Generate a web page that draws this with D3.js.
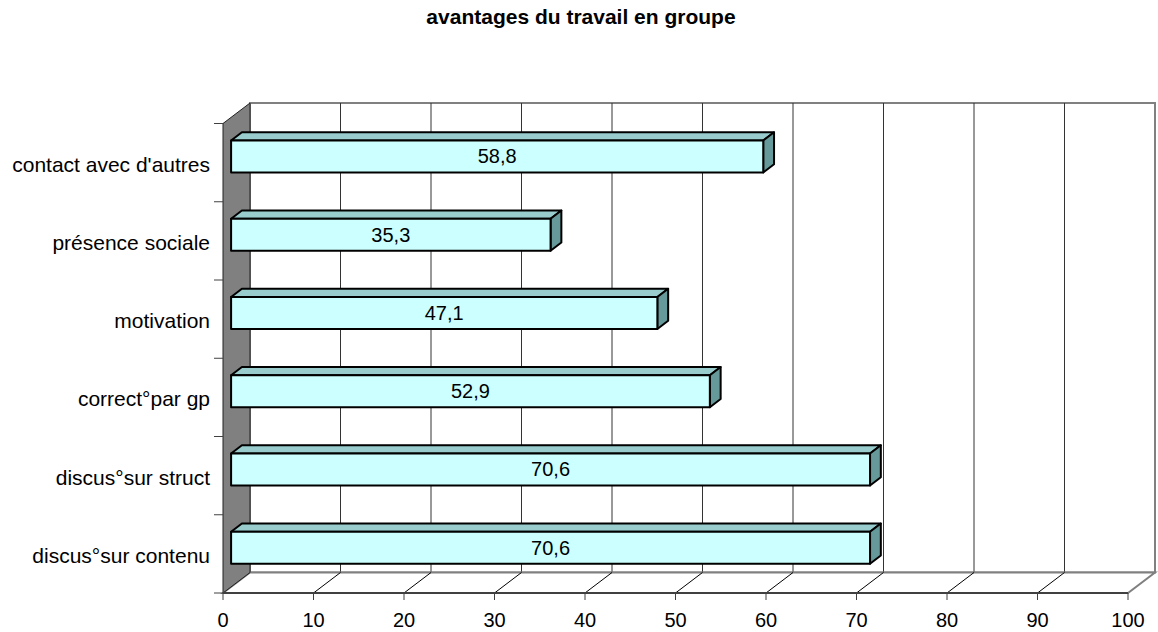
<!DOCTYPE html>
<html>
<head>
<meta charset="utf-8">
<script src="https://cdn.jsdelivr.net/npm/d3@7"></script>
<style>
  html, body { margin: 0; padding: 0; background: #fff; }
  text { font-family: "Liberation Sans", Arial, sans-serif; fill: #000; }
</style>
</head>
<body>
<svg id="chart" width="1158" height="632"></svg>
<script>
const title = "avantages du travail en groupe";
const categories = ["contact avec d'autres", "présence sociale", "motivation", "correct°par gp", "discus°sur struct", "discus°sur contenu"];
const values = [58.8, 35.3, 47.1, 52.9, 70.6, 70.6];
const valueLabels = ["58,8", "35,3", "47,1", "52,9", "70,6", "70,6"];
const xTicks = [0, 10, 20, 30, 40, 50, 60, 70, 80, 90, 100];

(function () {
const svg = d3.select("#chart");
const pLeft = 223, pRight = 1128, pTop = 123.5, pBottom = 593;
const DX = 27, DY = -20.5;           // depth offset of back wall
const zFront = 0.3, zBack = 0.7;     // bar depth range

const x = d3.scaleLinear().domain([0, 100]).range([pLeft, pRight]);
const yBand = d3.scaleBand().domain(categories).range([pTop, pBottom]);
const yBar = d3.scaleBand().domain(categories).range([pTop, pBottom])
  .paddingInner(0.59).paddingOuter(0.295);

const P = (px, py, z) => [px + DX * z, py + DY * z];
const poly = pts => pts.map(p => p.join(",")).join(" ");

// Back wall
svg.append("rect")
  .attr("x", pLeft + DX).attr("y", pTop + DY)
  .attr("width", pRight - pLeft).attr("height", pBottom - pTop)
  .attr("fill", "#fff").attr("stroke", "#808080").attr("stroke-width", 2);

// Gridlines on back wall
svg.selectAll(".grid").data(xTicks.slice(1, -1)).join("line")
  .attr("x1", d => x(d) + DX).attr("x2", d => x(d) + DX)
  .attr("y1", pTop + DY).attr("y2", pBottom + DY)
  .attr("stroke", "#333").attr("stroke-width", 1);

// Floor
const floor = [P(pLeft, pBottom, 0), P(pLeft, pBottom, 1), P(pRight, pBottom, 1), P(pRight, pBottom, 0)];
svg.append("polygon").attr("points", poly(floor))
  .attr("fill", "#fff").attr("stroke", "#808080").attr("stroke-width", 2);

svg.selectAll(".floorline").data(xTicks.slice(1, -1)).join("line")
  .attr("x1", d => x(d)).attr("y1", pBottom)
  .attr("x2", d => x(d) + DX).attr("y2", pBottom + DY)
  .attr("stroke", "#000").attr("stroke-width", 1);

// Side wall
const side = [P(pLeft, pTop, 0), P(pLeft, pTop, 1), P(pLeft, pBottom, 1), P(pLeft, pBottom, 0)];
svg.append("polygon").attr("points", poly(side))
  .attr("fill", "#808080").attr("stroke", "#222").attr("stroke-width", 1);

// Front axis line (bottom)
svg.append("line").attr("x1", pLeft).attr("x2", pRight).attr("y1", pBottom).attr("y2", pBottom)
  .attr("stroke", "#404040").attr("stroke-width", 2);

// X ticks and labels
svg.selectAll(".xtick").data(xTicks).join("line")
  .attr("x1", d => x(d)).attr("x2", d => x(d))
  .attr("y1", pBottom).attr("y2", pBottom + 7)
  .attr("stroke", "#404040").attr("stroke-width", 1);
svg.selectAll(".xlab").data(xTicks).join("text")
  .attr("x", d => x(d)).attr("y", 627)
  .attr("text-anchor", "middle").attr("font-size", 20)
  .text(d => d);

// Y ticks at category boundaries
const bounds = categories.map(c => yBand(c)).concat([pBottom]);
svg.selectAll(".ytick").data(bounds).join("line")
  .attr("x1", pLeft - 9).attr("x2", pLeft)
  .attr("y1", d => d).attr("y2", d => d)
  .attr("stroke", "#404040").attr("stroke-width", 1);
svg.selectAll(".ylab").data(categories).join("text")
  .attr("x", 210).attr("y", d => yBand(d) + yBand.bandwidth() / 2 + 9)
  .attr("text-anchor", "end").attr("font-size", 21)
  .text(d => d);

// Bars
const bars = svg.selectAll(".bar").data(categories.map((c, i) => ({ c, v: values[i], l: valueLabels[i] })))
  .join("g");

bars.each(function (d) {
  const g = d3.select(this);
  const x0 = x(0), x1 = x(d.v);
  const y0 = yBar(d.c), y1 = y0 + yBar.bandwidth();
  const ftl = P(x0, y0, zFront), ftr = P(x1, y0, zFront), fbr = P(x1, y1, zFront), fbl = P(x0, y1, zFront);
  const btl = P(x0, y0, zBack), btr = P(x1, y0, zBack), bbr = P(x1, y1, zBack);
  g.append("polygon").attr("points", poly([ftl, btl, btr, ftr]))
    .attr("fill", "#99CCCC").attr("stroke", "#000").attr("stroke-width", 2).attr("stroke-linejoin", "round");
  g.append("polygon").attr("points", poly([ftr, btr, bbr, fbr]))
    .attr("fill", "#669999").attr("stroke", "#000").attr("stroke-width", 2).attr("stroke-linejoin", "round");
  g.append("polygon").attr("points", poly([ftl, ftr, fbr, fbl]))
    .attr("fill", "#CCFFFF").attr("stroke", "#000").attr("stroke-width", 2).attr("stroke-linejoin", "round");
  g.append("text")
    .attr("x", (ftl[0] + ftr[0]) / 2)
    .attr("y", (ftl[1] + fbl[1]) / 2 + 7)
    .attr("text-anchor", "middle").attr("font-size", 20)
    .text(d.l);
});

// Title
svg.append("text").attr("x", 581).attr("y", 24)
  .attr("text-anchor", "middle").attr("font-size", 21).attr("font-weight", "bold")
  .text(title);
})();
</script>
</body>
</html>
